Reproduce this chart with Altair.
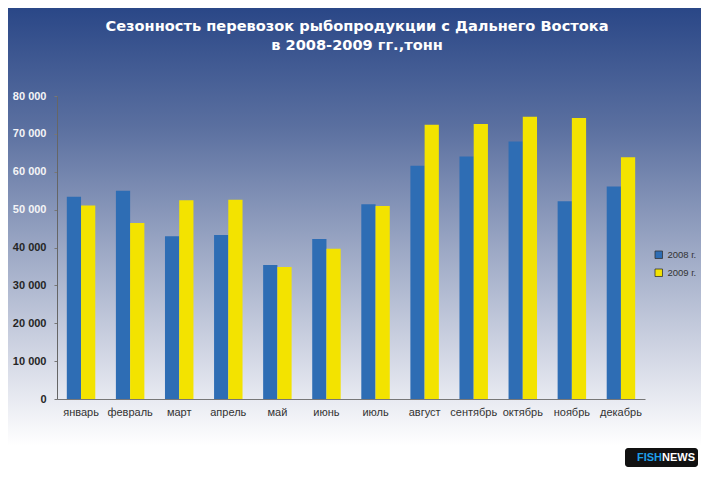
import altair as alt
import pandas as pd

months = ["январь", "февраль", "март", "апрель", "май", "июнь",
          "июль", "август", "сентябрь", "октябрь", "ноябрь", "декабрь"]
v2008 = [53400, 55000, 42950, 43300, 35400, 42250, 51400, 61600, 64000, 68000, 52200, 56100]
v2009 = [51100, 46500, 52450, 52600, 34850, 39700, 50950, 72400, 72600, 74500, 74200, 63800]
years = ["2008 г.", "2009 г."]
y_ticks = [0, 10000, 20000, 30000, 40000, 50000, 60000, 70000, 80000]
title_line1 = "Сезонность перевозок рыбопродукции с Дальнего Востока"
title_line2 = "в 2008-2009 гг.,тонн"

rows = []
for m, a, b in zip(months, v2008, v2009):
    rows.append({"month": m, "year": years[0], "value": a})
    rows.append({"month": m, "year": years[1], "value": b})
df = pd.DataFrame(rows)

W, H = 588, 303
PL, PT, PR, PB = 49, 88, 56, 70

bg_grad = alt.Gradient(
    gradient="linear",
    stops=[
        alt.GradientStop(color="#2a4787", offset=0),
        alt.GradientStop(color="#5b70a0", offset=0.26),
        alt.GradientStop(color="#9ba7c4", offset=0.52),
        alt.GradientStop(color="#d8dce8", offset=0.78),
        alt.GradientStop(color="#ffffff", offset=0.95),
    ],
    x1=0, x2=0, y1=0, y2=1,
)

one = pd.DataFrame({"a": [0]})

background = alt.Chart(one).mark_rect(color=bg_grad).encode(
    x=alt.value(-PL), x2=alt.value(W + PR), y=alt.value(-PT), y2=alt.value(H + PB)
)

def title_text(txt, y):
    return alt.Chart(one).mark_text(
        text=txt, align="center", baseline="middle", font="DejaVu Sans",
        fontWeight="bold", fontSize=14.6, color="white"
    ).encode(x=alt.value(300), y=alt.value(y))

t1 = title_text(title_line1, -69)
t2 = title_text(title_line2, -50)

bars = alt.Chart(df).mark_bar().encode(
    x=alt.X("month:N", sort=months, title=None,
            scale=alt.Scale(paddingInner=0.42, paddingOuter=0.2),
            axis=alt.Axis(labelAngle=0, labelFontSize=11, labelColor="#333333",
                          labelFont="Liberation Sans", labelPadding=7,
                          domainColor="#777777", ticks=False, zindex=2)),
    xOffset=alt.XOffset("year:N", sort=years),
    y=alt.Y("value:Q", title=None,
            scale=alt.Scale(domain=[0, 80000], nice=False),
            axis=alt.Axis(values=y_ticks, grid=False,
                          labelExpr="replace(format(datum.value, ','), ',', ' ')",
                          labelFontSize=11, labelFontWeight="bold",
                          labelColor={"condition": {"test": "datum.value >= 50000",
                                                    "value": "#f4f4f6"},
                                      "value": "#262626"},
                          labelFont="Liberation Sans", labelPadding=8,
                          domainColor="#666666", tickColor="#777777", tickSize=3,
                          zindex=2)),
    color=alt.Color("year:N", sort=years,
                    scale=alt.Scale(domain=years, range=["#2e6db4", "#f3e300"]),
                    legend=alt.Legend(title=None, orient="none", legendX=597, legendY=154,
                                      symbolType="square", symbolSize=56,
                                      symbolStrokeColor="#333333", symbolStrokeWidth=0.8,
                                      labelFontSize=9.5, labelColor="#333333",
                                      labelOffset=4,
                                      labelFont="Liberation Sans", rowPadding=6)),
)

logo_box = alt.Chart(one).mark_rect(color="#111111", cornerRadius=3).encode(
    x=alt.value(568), x2=alt.value(641), y=alt.value(352), y2=alt.value(371)
)
logo_fish = alt.Chart(one).mark_text(text="FISH", align="right", baseline="middle",
                                     font="Liberation Sans", fontWeight="bold",
                                     fontSize=11, color="#1e9fe8").encode(
    x=alt.value(605), y=alt.value(362)
)
logo_news = alt.Chart(one).mark_text(text="NEWS", align="left", baseline="middle",
                                     font="Liberation Sans", fontWeight="bold",
                                     fontSize=11, color="#ffffff").encode(
    x=alt.value(605), y=alt.value(362)
)

chart = alt.layer(background, t1, t2, bars, logo_box, logo_fish, logo_news).properties(
    width=W, height=H,
    padding={"left": PL, "top": PT, "right": PR, "bottom": PB},
    autosize=alt.AutoSizeParams(type="none"),
).configure_view(stroke=None).configure(background="white")

chart.save("out.html", embed_options={"renderer": "svg", "actions": False})
